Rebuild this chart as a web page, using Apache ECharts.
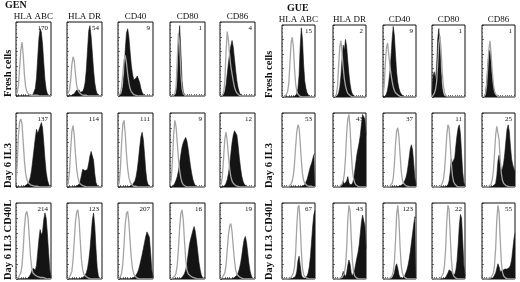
<!DOCTYPE html>
<html>
<head>
<meta charset="utf-8">
<script src="https://cdn.jsdelivr.net/npm/echarts@6/dist/echarts.min.js"></script>
<style>
html, body { margin: 0; padding: 0; background: #fff; }
#chart { width: 520px; height: 282px; }
</style>
</head>
<body>
<div id="chart"></div>
<script>
// markers (columns) and culture conditions (rows)
var markers = ['HLA ABC', 'HLA DR', 'CD40', 'CD80', 'CD86'];
var conditions = ['Fresh cells', 'Day 6 IL3', 'Day 6 IL3 CD40L'];

// MFI values printed in each histogram
var genMfi = [[170, 54, 9, 1, 4], [137, 114, 111, 9, 12], [214, 123, 207, 16, 19]];
var gueMfi = [[15, 2, 9, 1, 1], [53, 43, 37, 11, 25], [67, 43, 123, 22, 55]];

// histogram counts, 30 log-fluorescence bins, % of panel height
var genStained = [
  [
    [0,0,0,0,0,0,0,0,0,0,0,0,0,1,2,4,10,25,52,78,91,86,70,45,22,9,3,1,0,0],
    [0,0,0,0,1,2,3,5,8,10,8,5,4,6,10,18,35,62,88,95,80,58,35,18,8,3,1,0,0,0],
    [0,0,1,4,12,30,62,85,91,80,60,42,30,22,20,24,27,25,18,10,5,2,1,0,0,0,0,0,0,0],
    [0,0,0,0,1,4,20,70,95,60,20,6,2,1,0,0,0,0,0,0,0,0,0,0,0,0,0,0,0,0],
    [0,0,0,2,6,15,30,45,58,68,75,66,50,34,20,11,5,2,1,0,0,0,0,0,0,0,0,0,0,0]
  ],
  [
    [0,0,0,0,0,0,0,1,2,3,5,8,14,24,38,52,66,78,72,70,82,87,80,60,38,20,10,4,1,0],
    [0,0,0,0,0,0,0,0,1,2,4,8,16,24,25,22,20,24,32,42,48,50,36,18,6,2,1,0,0,0],
    [0,0,0,0,0,0,0,0,0,0,1,2,3,5,8,14,24,38,54,68,74,64,44,22,8,3,1,0,0,0],
    [0,0,0,2,5,9,14,22,32,44,54,60,64,67,62,52,40,28,18,10,5,2,1,0,0,0,0,0,0,0],
    [0,0,0,0,2,5,10,18,30,45,60,70,76,78,70,56,40,26,15,8,4,2,1,0,0,0,0,0,0,0]
  ],
  [
    [0,0,0,0,0,0,0,0,0,0,1,3,6,10,14,15,12,18,35,52,65,58,62,78,87,80,60,35,12,2],
    [0,0,0,0,0,0,0,0,0,0,0,1,1,2,3,5,8,14,24,38,58,78,87,70,40,15,4,1,0,0],
    [0,0,0,0,0,0,0,0,0,0,0,0,1,2,3,5,8,12,18,25,32,40,48,56,62,64,55,35,12,2],
    [0,0,0,0,0,0,0,0,0,1,2,4,7,12,20,32,44,52,58,64,69,62,50,36,22,12,5,2,0,0],
    [0,0,0,0,0,0,0,0,0,0,0,1,2,3,5,8,13,20,30,42,52,56,48,34,20,10,4,1,0,0]
  ]
];
var genControl = [
  [
    [2,5,14,38,62,73,55,28,12,6,3,2,1,1,1,1,1,1,1,0,0,0,0,0,0,0,0,0,0,0],
    [1,3,8,20,42,53,48,30,14,8,5,3,2,1,1,1,1,1,0,0,0,0,0,0,0,0,0,0,0,0],
    [0,1,4,12,30,48,55,45,30,18,10,6,4,2,1,1,0,0,0,0,0,0,0,0,0,0,0,0,0,0],
    [0,0,0,1,3,12,50,85,70,30,10,3,1,0,0,0,0,0,0,0,0,0,0,0,0,0,0,0,0,0],
    [0,0,1,4,20,60,87,75,55,40,30,20,12,7,4,2,1,0,0,0,0,0,0,0,0,0,0,0,0,0]
  ],
  [
    [5,30,70,88,92,85,60,35,18,10,6,4,3,2,2,1,1,1,1,1,0,0,0,0,0,0,0,0,0,0],
    [1,5,20,50,75,83,70,45,25,13,7,4,3,2,1,1,1,0,0,0,0,0,0,0,0,0,0,0,0,0],
    [1,6,25,60,85,90,72,45,25,13,7,4,2,1,1,1,0,0,0,0,0,0,0,0,0,0,0,0,0,0],
    [2,10,35,70,90,82,60,38,22,12,6,3,2,1,1,0,0,0,0,0,0,0,0,0,0,0,0,0,0,0],
    [1,4,15,40,65,74,62,42,25,14,8,5,3,2,1,1,0,0,0,0,0,0,0,0,0,0,0,0,0,0]
  ],
  [
    [0,1,2,4,8,18,40,68,85,89,80,55,30,15,8,6,5,4,3,3,2,2,2,1,1,1,0,0,0,0],
    [0,1,2,4,10,25,50,75,88,91,78,50,25,12,6,4,3,2,1,1,0,0,0,0,0,0,0,0,0,0],
    [0,1,3,8,20,45,72,86,89,75,50,28,14,7,4,2,1,1,0,0,0,0,0,0,0,0,0,0,0,0],
    [0,0,1,2,4,8,18,40,68,86,91,78,50,26,12,7,5,4,3,2,2,1,1,0,0,0,0,0,0,0],
    [0,1,2,4,8,18,38,58,70,73,62,42,24,12,6,4,3,2,1,1,0,0,0,0,0,0,0,0,0,0]
  ]
];
var gueStained = [
  [
    [0,0,0,0,0,0,0,0,0,0,0,1,2,5,12,30,70,96,80,45,22,12,6,3,1,0,0,0,0,0],
    [0,0,0,0,2,6,14,30,55,72,65,80,70,50,32,18,9,4,2,1,0,0,0,0,0,0,0,0,0,0],
    [0,0,1,4,10,20,34,55,80,98,85,58,34,20,12,7,4,2,1,0,0,0,0,0,0,0,0,0,0,0],
    [5,30,35,25,40,80,95,70,35,12,4,1,0,0,0,0,0,0,0,0,0,0,0,0,0,0,0,0,0,0],
    [0,0,1,5,18,42,62,65,48,28,14,6,2,1,0,0,0,0,0,0,0,0,0,0,0,0,0,0,0,0]
  ],
  [
    [0,0,0,0,0,0,0,0,0,0,0,0,0,0,0,0,0,1,1,2,3,5,10,16,22,28,32,38,44,45],
    [0,0,0,0,0,0,1,2,3,8,4,2,8,14,6,3,2,4,10,20,32,44,52,60,70,85,98,98,92,70],
    [0,0,0,0,0,0,0,0,0,0,0,0,0,0,1,1,2,3,5,8,12,18,28,40,52,57,50,32,12,3],
    [0,0,0,0,0,0,0,0,0,0,0,0,0,1,3,8,20,38,32,30,40,56,70,80,84,72,45,20,6,1],
    [0,0,0,0,0,0,0,0,0,0,1,2,5,15,35,43,30,22,25,32,45,62,78,84,75,55,38,30,25,20]
  ],
  [
    [0,0,0,0,0,0,0,0,0,0,1,2,4,10,24,30,18,6,2,1,1,2,4,8,16,30,50,70,85,90],
    [0,0,0,0,0,0,0,1,4,10,6,3,8,18,25,20,8,4,6,12,20,28,35,45,60,75,84,85,70,40],
    [0,0,0,0,0,0,0,0,1,3,8,16,20,14,6,2,1,1,2,4,8,12,18,26,36,48,60,72,82,80],
    [0,0,0,0,0,0,0,0,0,0,0,1,2,4,8,12,13,10,6,4,6,12,24,45,70,85,80,50,18,4],
    [0,0,0,0,0,0,0,0,0,1,2,4,8,14,20,16,10,9,11,12,13,12,13,14,15,18,25,38,52,60]
  ]
];
var gueControl = [
  [
    [0,0,1,2,4,8,20,48,75,83,70,40,18,8,4,2,1,0,0,0,0,0,0,0,0,0,0,0,0,0],
    [0,0,1,4,15,45,70,78,60,40,25,15,9,5,3,2,1,0,0,0,0,0,0,0,0,0,0,0,0,0],
    [2,15,45,68,75,60,45,32,22,14,9,6,4,3,2,1,1,0,0,0,0,0,0,0,0,0,0,0,0,0],
    [0,2,5,10,20,45,75,85,65,35,15,6,2,1,0,0,0,0,0,0,0,0,0,0,0,0,0,0,0,0],
    [0,0,1,4,15,40,65,78,60,35,18,8,4,2,1,0,0,0,0,0,0,0,0,0,0,0,0,0,0,0]
  ],
  [
    [0,0,0,0,0,0,1,2,4,8,16,32,55,75,84,80,60,36,18,9,5,3,2,1,1,1,1,1,0,0],
    [0,0,0,0,0,0,1,2,4,8,18,40,72,92,98,80,48,24,12,6,3,2,1,1,0,0,0,0,0,0],
    [0,0,0,0,0,0,1,2,5,12,30,58,76,80,68,44,22,10,5,3,2,1,1,0,0,0,0,0,0,0],
    [0,0,0,0,0,0,0,1,2,5,10,22,45,70,84,80,58,32,15,7,4,2,1,1,0,0,0,0,0,0],
    [0,0,0,0,0,0,1,2,4,10,22,45,70,82,84,64,38,18,9,5,3,2,1,1,0,0,0,0,0,0]
  ],
  [
    [0,0,0,0,0,0,1,1,2,4,8,16,35,70,94,97,72,36,14,6,3,2,1,1,0,0,0,0,0,0],
    [0,0,0,0,0,0,1,1,2,4,8,18,40,78,97,90,55,24,10,4,2,1,1,0,0,0,0,0,0,0],
    [0,0,0,0,0,0,1,2,4,10,22,50,85,97,78,42,18,8,4,2,1,1,0,0,0,0,0,0,0,0],
    [0,0,0,0,0,0,0,1,2,4,8,18,40,76,97,92,58,26,10,4,2,1,1,0,0,0,0,0,0,0],
    [0,0,0,0,0,0,1,1,2,4,8,18,40,78,97,88,52,22,9,4,2,1,1,0,0,0,0,0,0,0]
  ]
];

var serif = '"Liberation Serif", "DejaVu Serif", serif';
var bins = [];
for (var b = 0; b < 30; b++) bins.push(b);

var panels = [
  { name: 'GEN', stained: genStained, control: genControl, mfi: genMfi,
    lefts: [16, 67, 118, 170, 220], width: 35, tops: [22, 113, 203], heights: [74, 74, 76],
    labelX: 8, titleX: 5, titleY: 0, headY: 17 },
  { name: 'GUE', stained: gueStained, control: gueControl, mfi: gueMfi,
    lefts: [282, 333, 383, 432, 482], width: 33, tops: [25, 113, 203], heights: [72, 74, 76],
    labelX: 269, titleX: 287, titleY: 3, headY: 20 }
];

var grids = [], xAxes = [], yAxes = [], series = [], graphics = [];

panels.forEach(function (p) {
  graphics.push({ type: 'text', left: p.titleX, top: p.titleY,
    style: { text: p.name, font: 'bold 10px ' + serif, fill: '#111' } });
  markers.forEach(function (m, c) {
    graphics.push({ type: 'text', x: p.lefts[c] + p.width / 2, y: p.headY,
      style: { text: m, font: '9px ' + serif, fill: '#111', align: 'center', verticalAlign: 'middle' } });
  });
  conditions.forEach(function (cond, r) {
    graphics.push({ type: 'text', x: p.labelX, y: p.tops[r] + p.heights[r] + 1, rotation: Math.PI / 2,
      style: { text: cond, font: 'bold 10.5px ' + serif, fill: '#111', align: 'left', verticalAlign: 'middle' } });
    markers.forEach(function (m, c) {
      var k = grids.length;
      grids.push({ left: p.lefts[c], top: p.tops[r], width: p.width, height: p.heights[r],
        show: true, borderColor: '#111', borderWidth: 1, backgroundColor: 'transparent' });
      xAxes.push({ type: 'category', gridIndex: k, data: bins, boundaryGap: false,
        axisLine: { show: false }, axisLabel: { show: false }, splitLine: { show: false },
        axisTick: { show: true, inside: true, length: 2, interval: 1, lineStyle: { color: '#111', width: 0.6 } } });
      yAxes.push({ type: 'value', gridIndex: k, min: 0, max: 100, interval: 20,
        axisLine: { show: false }, axisLabel: { show: false }, splitLine: { show: false },
        axisTick: { show: true, inside: true, length: 2, lineStyle: { color: '#111', width: 0.6 } },
        minorTick: { show: true, splitNumber: 4, length: 1, lineStyle: { color: '#111', width: 0.5 } } });
      series.push({ type: 'line', xAxisIndex: k, yAxisIndex: k, data: p.stained[r][c],
        symbol: 'none', silent: true, z: 2,
        lineStyle: { color: '#141414', width: 0.6 },
        areaStyle: { color: '#141414', opacity: 1 } });
      series.push({ type: 'line', xAxisIndex: k, yAxisIndex: k, data: p.control[r][c],
        symbol: 'none', silent: true, z: 3,
        lineStyle: { color: '#a4a4a4', width: 1.3 } });
      graphics.push({ type: 'text', x: p.lefts[c] + p.width - 3, y: p.tops[r] + 3,
        style: { text: String(p.mfi[r][c]), font: '7px ' + serif, fill: '#111', align: 'right', verticalAlign: 'top' } });
    });
  });
});

var chart = echarts.init(document.getElementById('chart'));
chart.setOption({
  animation: false,
  backgroundColor: '#fff',
  grid: grids,
  xAxis: xAxes,
  yAxis: yAxes,
  series: series,
  graphic: graphics
});
</script>
</body>
</html>
